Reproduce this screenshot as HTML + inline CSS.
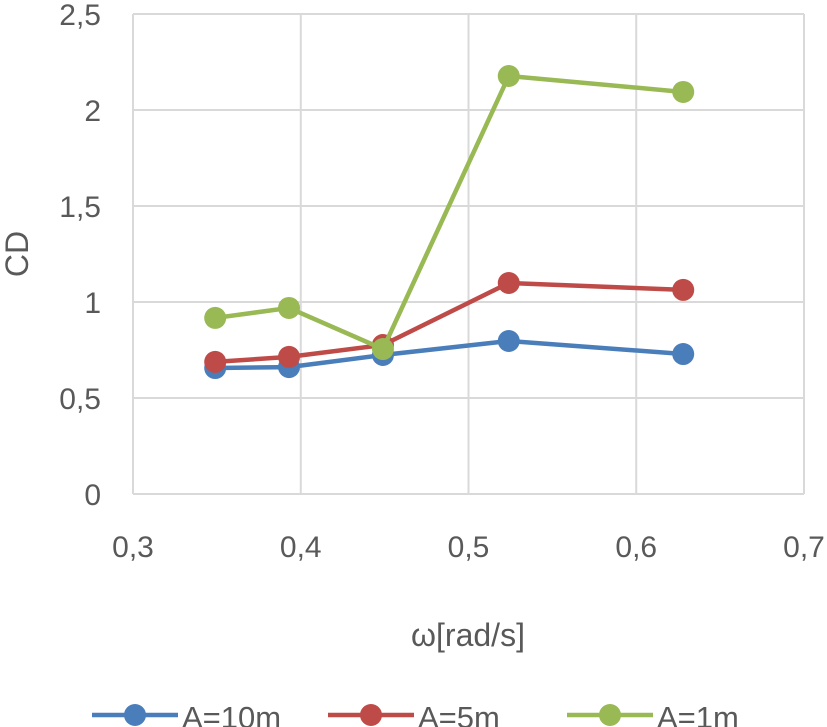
<!DOCTYPE html>
<html><head><meta charset="utf-8"><style>
html,body{margin:0;padding:0;background:#fff;}
svg{display:block;font-family:"Liberation Sans",sans-serif;}
</style></head><body>
<svg id="chart" width="827" height="727" viewBox="0 0 827 727">
<g id="grid"></g><g id="axes"></g><g id="series"></g><g id="legend"></g>
</svg>
<script>
const xTicks=[0.3,0.4,0.5,0.6,0.7];
const xTickLabels=["0,3","0,4","0,5","0,6","0,7"];
const yTicks=[0,0.5,1,1.5,2,2.5];
const yTickLabels=["0","0,5","1","1,5","2","2,5"];
const omega=[0.349,0.393,0.449,0.524,0.628];
const cdA10=[0.656,0.661,0.724,0.797,0.729];
const cdA5=[0.688,0.714,0.776,1.099,1.063];
const cdA1=[0.917,0.969,0.755,2.177,2.094];
const seriesNames=["A=10m","A=5m","A=1m"];
const NS="http://www.w3.org/2000/svg";
const X0=133,X1=804,Y0=494,Y1=14;
const sx=v=>X0+(v-0.3)/(0.7-0.3)*(X1-X0);
const sy=v=>Y0-(v/2.5)*(Y0-Y1);
function mk(tag,attrs,parent){const e=document.createElementNS(NS,tag);for(const k in attrs)e.setAttribute(k,attrs[k]);parent.appendChild(e);return e;}
const grid=document.getElementById('grid'),axes=document.getElementById('axes'),ser=document.getElementById('series'),leg=document.getElementById('legend');
yTicks.forEach((t,i)=>{
 const l=mk('line',{x1:X0,x2:X1,y1:sy(t),y2:sy(t),stroke:'#d9d9d9','stroke-width':2},grid);
 
 
 const tx=mk('text',{x:101,y:sy(t)+11,'text-anchor':'end','font-size':30,fill:'#595959'},axes);
 tx.textContent=yTickLabels[i];
 
 
});
xTicks.forEach((t,i)=>{
 const l=mk('line',{x1:sx(t),x2:sx(t),y1:Y1,y2:Y0,stroke:'#d9d9d9','stroke-width':2},grid);
 
 
 const tx=mk('text',{x:sx(t),y:557,'text-anchor':'middle','font-size':30,fill:'#595959'},axes);
 tx.textContent=xTickLabels[i];
 
 
});
const yt=mk('text',{x:0,y:0,transform:'translate(28,254) rotate(-90)','text-anchor':'middle','font-size':32,fill:'#595959'},axes);
yt.textContent='CD';


const xt=mk('text',{x:468,y:646,'text-anchor':'middle','font-size':32,fill:'#595959'},axes);
xt.textContent='ω[rad/s]';


const colors=['#4a7ebb','#be4b48','#98b954'];
const data=[cdA10,cdA5,cdA1];
data.forEach((vals,si)=>{
 const g=mk('g',{},ser);
 
 
 const pts=vals.map((v,i)=>sx(omega[i])+','+sy(v)).join(' ');
 const pl=mk('polyline',{points:pts,fill:'none',stroke:colors[si],'stroke-width':4.5,'stroke-linejoin':'round'},g);
 
 
 vals.forEach((v,i)=>{
  const c=mk('circle',{cx:sx(omega[i]),cy:sy(v),r:11,fill:colors[si]},g);
  
  
 });
});
const legX=[92,328,567];
seriesNames.forEach((n,i)=>{
 const g=mk('g',{},leg);
 
 
 mk('line',{x1:legX[i],x2:legX[i]+86,y1:715,y2:715,stroke:colors[i],'stroke-width':4.5},g);
 mk('circle',{cx:legX[i]+43,cy:715,r:11,fill:colors[i]},g);
 const t=mk('text',{x:legX[i]+90,y:728,'font-size':31,fill:'#595959'},g);
 t.textContent=n;
});
</script>
</body></html>
